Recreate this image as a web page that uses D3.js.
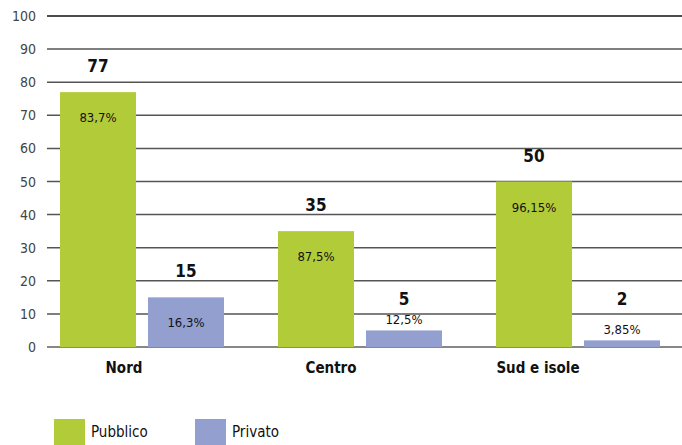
<!DOCTYPE html>
<html>
<head>
<meta charset="utf-8">
<script src="https://cdn.jsdelivr.net/npm/d3@7"></script>
<style>
body { margin:0; background:#fff; }
svg { display:block; font-family:"Liberation Sans Narrow","DejaVu Sans Condensed","Roboto Condensed",sans-serif; }
</style>
</head>
<body>
<svg id="graph"></svg>
<script>
var categories = ["Nord", "Centro", "Sud e isole"];
var seriesNames = ["Pubblico", "Privato"];
var pubblico = [77, 35, 50];
var privato = [15, 5, 2];
var pubblicoPct = ["83,7%", "87,5%", "96,15%"];
var privatoPct = ["16,3%", "12,5%", "3,85%"];
var yTicks = [0, 10, 20, 30, 40, 50, 60, 70, 80, 90, 100];
var colors = ["#b1cb39", "#929fcf"];

var screen = {width:682, height:445}

var svg = d3.select("#graph")
    .attr("width", screen.width)
    .attr("height", screen.height)

var xScale = d3.scaleBand()
    .domain(categories)
    .range([33, 687])

var x1 = d3.scaleBand()
    .domain(seriesNames)
    .range([27, 191])
    .paddingInner(0.136)

var yScale = d3.scaleLinear()
    .domain([0, 100])
    .range([347, 16])

// grid lines
svg.selectAll(".grid")
    .data(yTicks)
    .enter()
    .append("line")
    .attr("x1", 47)
    .attr("x2", screen.width)
    .attr("y1", function(d) { return yScale(d) })
    .attr("y2", function(d) { return yScale(d) })
    .attr("stroke", function(d) { return d == 100 ? "#111" : (d == 0 ? "#888" : "#555") })
    .attr("stroke-width", function(d) { return d == 0 ? 2 : 1.5 })

// y axis labels
svg.selectAll(".ytick")
    .data(yTicks)
    .enter()
    .append("text")
    .attr("x", 36)
    .attr("y", function(d) { return yScale(d) + 5 })
    .attr("text-anchor", "end")
    .attr("font-size", 14)
    .attr("fill", "#444")
    .text(function(d) { return d })

var bars = [];
categories.forEach(function(c, i)
{
    bars.push({cat:c, series:"Pubblico", value:pubblico[i], pct:pubblicoPct[i], color:colors[0]})
    bars.push({cat:c, series:"Privato", value:privato[i], pct:privatoPct[i], color:colors[1]})
})

var barX = function(b) { return xScale(b.cat) + x1(b.series) }
var barTop = function(b) { return yScale(b.value) }
var isSmall = function(b) { return yScale(0) - yScale(b.value) < 25 }

svg.selectAll(".bar")
    .data(bars)
    .enter()
    .append("rect")
    .attr("x", barX)
    .attr("y", barTop)
    .attr("width", x1.bandwidth())
    .attr("height", function(b) { return yScale(0) - yScale(b.value) })
    .attr("fill", function(b) { return b.color })

// percent labels
svg.selectAll(".pct")
    .data(bars)
    .enter()
    .append("text")
    .attr("x", function(b) { return barX(b) + x1.bandwidth() / 2 })
    .attr("y", function(b) { return isSmall(b) ? barTop(b) - 6 : barTop(b) + 30 })
    .attr("text-anchor", "middle")
    .attr("font-size", 13)
    .attr("fill", "#111")
    .text(function(b) { return b.pct })

// value labels
svg.selectAll(".val")
    .data(bars)
    .enter()
    .append("text")
    .attr("x", function(b) { return barX(b) + x1.bandwidth() / 2 })
    .attr("y", function(b) { return Math.min(barTop(b) - 20, 305) })
    .attr("text-anchor", "middle")
    .attr("font-size", 17)
    .attr("font-weight", "bold")
    .attr("fill", "#111")
    .text(function(b) { return b.value })

// category labels
svg.selectAll(".cat")
    .data(categories)
    .enter()
    .append("text")
    .attr("x", function(c, i) { return xScale(c) + x1.bandwidth() + x1("Pubblico") - 12 - i * 11 })
    .attr("y", 373)
    .attr("text-anchor", "middle")
    .attr("font-size", 15)
    .attr("font-weight", "bold")
    .attr("fill", "#111")
    .text(function(c) { return c })

// legend
var legend = svg.selectAll(".legend")
    .data(seriesNames)
    .enter()
    .append("g")
    .attr("transform", function(d, i) { return "translate(" + (54 + i * 141) + ",419)" })

legend.append("rect")
    .attr("width", 31)
    .attr("height", 26)
    .attr("fill", function(d, i) { return colors[i] })

legend.append("text")
    .attr("x", 37)
    .attr("y", 18)
    .attr("font-size", 15)
    .attr("fill", "#111")
    .text(function(d) { return d })
</script>
</body>
</html>
